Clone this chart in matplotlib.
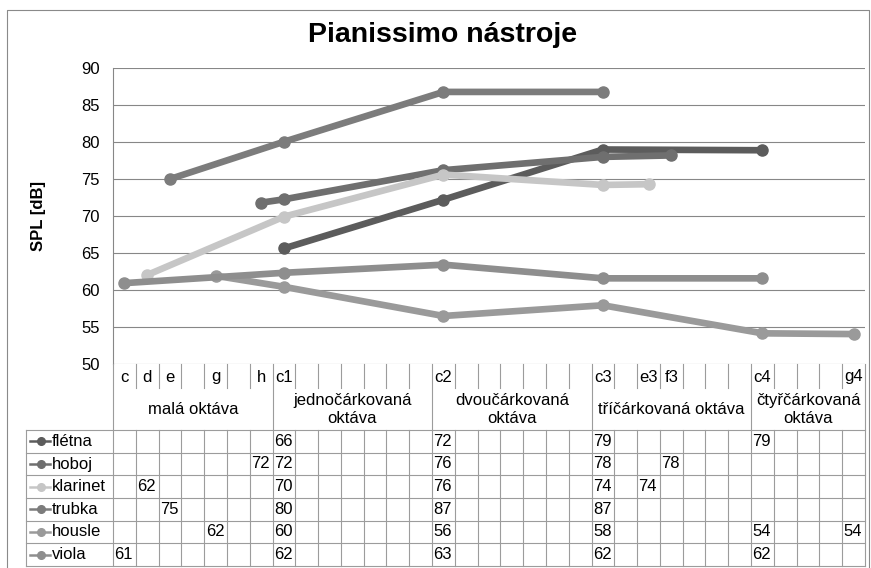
import numpy as np
import matplotlib
matplotlib.use("Agg")
import matplotlib.pyplot as plt
from matplotlib.lines import Line2D
from matplotlib.transforms import blended_transform_factory, offset_copy

plt.rcParams['font.family'] = ['Liberation Sans', 'DejaVu Sans']

# ---------------- data ----------------
note_labels = ['c', 'd', 'e', '', 'g', '', 'h',
               'c1', '', '', '', '', '', '',
               'c2', '', '', '', '', '', '',
               'c3', '', 'e3', 'f3', '', '', '',
               'c4', '', '', '', 'g4']
octave_names = ['malá oktáva', 'jednočárkovaná\noktáva', 'dvoučárkovaná\noktáva',
                'tříčárkovaná oktáva', 'čtyřčárkovaná\noktáva']
octave_sizes = [7, 7, 7, 7, 5]

series_names = ['flétna', 'hoboj', 'klarinet', 'trubka', 'housle', 'viola']
fletna_notes = ['c1', 'c2', 'c3', 'c4']
fletna_values = [65.6, 72.2, 79.0, 78.9]
hoboj_notes = ['h', 'c1', 'c2', 'c3', 'f3']
hoboj_values = [71.8, 72.25, 76.2, 78.0, 78.2]
klarinet_notes = ['d', 'c1', 'c2', 'c3', 'e3']
klarinet_values = [62.0, 69.9, 75.6, 74.2, 74.3]
trubka_notes = ['e', 'c1', 'c2', 'c3']
trubka_values = [75.0, 80.05, 86.8, 86.8]
housle_notes = ['g', 'c1', 'c2', 'c3', 'c4', 'g4']
housle_values = [61.9, 60.4, 56.45, 57.9, 54.1, 54.0]
viola_notes = ['c', 'c1', 'c2', 'c3', 'c4']
viola_values = [60.9, 62.3, 63.4, 61.55, 61.55]

series_notes = [fletna_notes, hoboj_notes, klarinet_notes, trubka_notes, housle_notes, viola_notes]
series_values = [fletna_values, hoboj_values, klarinet_values, trubka_values, housle_values, viola_values]
series_colors = ['#5c5c5c', '#6f6f6f', '#c6c6c6', '#7c7c7c', '#9a9a9a', '#8e8e8e']

y_ticks = [50, 55, 60, 65, 70, 75, 80, 85, 90]
title = 'Pianissimo nástroje'
y_label = 'SPL [dB]'

# ---------------- layout ----------------
W, H = 871, 568
fig = plt.figure(figsize=(W / 100, H / 100), dpi=100)

def fx(p):
    return p / W

def fy(p):
    return 1 - p / H

FS = 12
ax_left, ax_right, ax_top, ax_bot = 113, 865, 68.3, 363.6
ax = fig.add_axes([fx(ax_left), fy(ax_bot), (ax_right - ax_left) / W, (ax_bot - ax_top) / H])

n = len(note_labels)
ax.set_xlim(-0.5, n - 0.5)
ax.set_ylim(50, 90)
ax.set_yticks(y_ticks)
ax.set_xticks([])
grid_col = '#878787'
ax.yaxis.grid(True, color=grid_col, lw=0.8)
ax.set_axisbelow(True)
for s in ['top', 'right', 'bottom']:
    ax.spines[s].set_visible(False)
ax.spines['left'].set_color(grid_col)
ax.spines['left'].set_linewidth(0.8)
ax.tick_params(axis='y', length=0, pad=9.5, labelsize=FS, colors='black')

idx = {}
for i, lab in enumerate(note_labels):
    if lab:
        idx[lab] = i

for name, notes, vals, col in zip(series_names, series_notes, series_values, series_colors):
    xs = [idx[nn] for nn in notes]
    ax.plot(xs, vals, color=col, lw=4.8, marker='o', ms=8, solid_capstyle='round',
            solid_joinstyle='round', zorder=3, clip_on=False)

# ---------------- text ----------------
fig.text(fx(443), fy(42), title, ha='center', va='baseline', fontsize=20.5, fontweight='bold')
fig.text(fx(38), fy(216), y_label, ha='center', va='center', rotation=90, fontsize=FS,
         fontweight='bold')

# chart border
border_col = '#8a8a8a'
fig.add_artist(Line2D([fx(7), fx(7), fx(869), fx(869)], [fy(567), fy(10), fy(10), fy(567)],
                      transform=fig.transFigure, color=border_col, lw=0.8))

# ---------------- category axis & data table ----------------
tx = blended_transform_factory(ax.transData, fig.transFigure)
tab_col = '#9c9c9c'
row1_bot = 388
row2_bot = 430
row_h = (566 - row2_bot) / 6
tab_bot = row2_bot + 6 * row_h
leg_left = 26

def vline(xd, y0, y1):
    fig.add_artist(Line2D([xd, xd], [fy(y0), fy(y1)], transform=tx, color=tab_col, lw=0.8))

group_bounds = [0]
for s in octave_sizes:
    group_bounds.append(group_bounds[-1] + s)

for k in range(n + 1):
    xd = k - 0.5
    if k in group_bounds:
        vline(xd, ax_bot, tab_bot)
    else:
        vline(xd, ax_bot, row1_bot)
        vline(xd, row2_bot, tab_bot)

# horizontal table lines (pixel coordinates)
for r in range(7):
    yp = row2_bot + r * row_h
    fig.add_artist(Line2D([fx(leg_left), fx(ax_right)], [fy(yp), fy(yp)],
                          transform=fig.transFigure, color=tab_col, lw=0.8))
fig.add_artist(Line2D([fx(leg_left), fx(leg_left)], [fy(row2_bot), fy(tab_bot)],
                      transform=fig.transFigure, color=tab_col, lw=0.8))

# note labels row
for i, lab in enumerate(note_labels):
    if lab:
        fig.text(i, fy(377), lab, transform=tx, ha='center', va='center', fontsize=FS)

# octave labels row
for g, name in enumerate(octave_names):
    c = (group_bounds[g] + group_bounds[g + 1] - 1) / 2
    fig.text(c, fy(409.5), name, transform=tx, ha='center', va='center', fontsize=FS,
             linespacing=1.2, multialignment='center')

# data table values
tx_off = offset_copy(tx, fig=fig, x=1.5, y=0, units='dots')
for r, (name, notes, vals, col) in enumerate(zip(series_names, series_notes, series_values, series_colors)):
    yc = row2_bot + (r + 0.5) * row_h
    for nn, v in zip(notes, vals):
        fig.text(idx[nn] - 0.5, fy(yc), f"{v:.0f}", transform=tx_off, ha='left', va='center',
                 fontsize=FS)
    # legend key
    fig.add_artist(Line2D([fx(30), fx(50)], [fy(yc), fy(yc)], transform=fig.transFigure,
                          color=col, lw=1.8))
    fig.add_artist(Line2D([fx(40.5)], [fy(yc)], transform=fig.transFigure, color=col,
                          marker='o', ms=5.5, lw=0))
    fig.text(fx(51.5), fy(yc), name, ha='left', va='center', fontsize=FS)

fig.savefig('out.png', dpi=100)
